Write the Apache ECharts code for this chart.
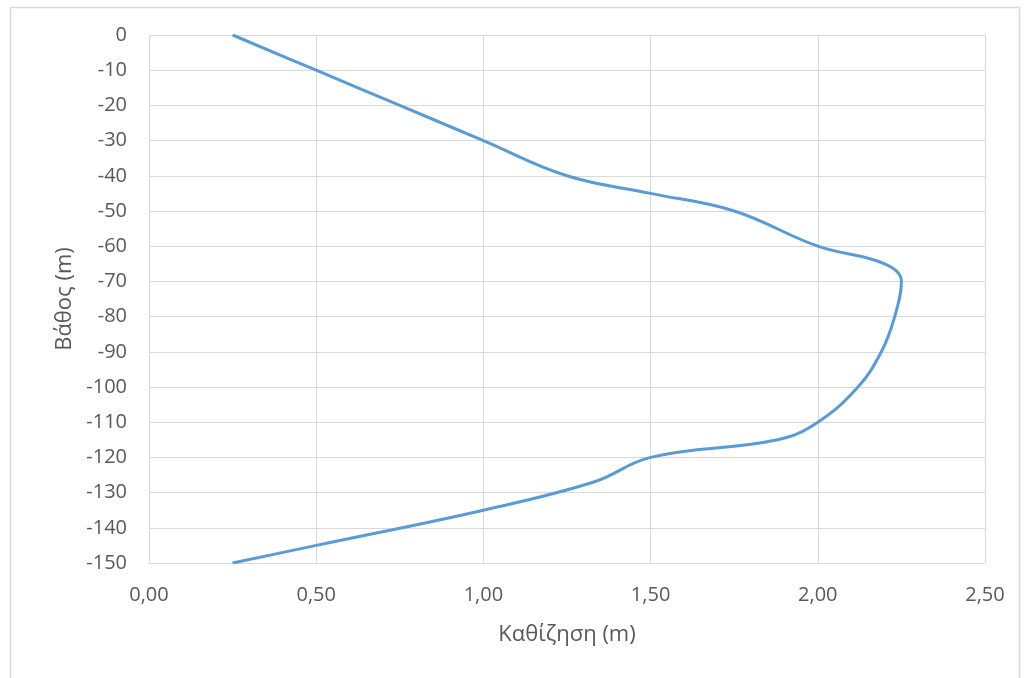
<!DOCTYPE html>
<html>
<head>
<meta charset="utf-8">
<script src="https://cdn.jsdelivr.net/npm/echarts@6/dist/echarts.min.js"></script>
<style>
  html, body { margin: 0; padding: 0; background: #fff; }
  #chart { width: 1025px; height: 678px; }
</style>
</head>
<body>
<div id="chart"></div>
<script>
// Settlement (m) against depth (m)
const settlement = [0.25, 0.5, 0.75, 1.0, 1.25, 1.5, 1.75, 2.0, 2.2, 2.25, 2.23, 2.19, 2.12, 2.0, 1.88, 1.5, 1.33, 1.0, 0.5, 0.25];
const depth      = [0, -10, -20, -30, -40, -45, -50, -60, -65, -70, -80, -90, -100, -110, -115, -120, -127, -135, -145, -150];

const xTitle = 'Καθίζηση (m)';
const yTitle = 'Βάθος (m)';

const points = settlement.map((s, i) => [s, depth[i]]);
const font = 'Open Sans, Liberation Sans, sans-serif';
const gridColor = '#d9d9d9';
const textColor = '#595959';

const chart = echarts.init(document.getElementById('chart'), null, { renderer: 'canvas' });
chart.setOption({
  animation: false,
  backgroundColor: '#fff',
  graphic: [{
    type: 'rect',
    shape: { x: 10.5, y: 7.5, width: 1009, height: 690 },
    style: { fill: 'none', stroke: '#d9d9d9', lineWidth: 1.5 },
    silent: true
  }],
  grid: { left: 149, top: 35, right: 40, bottom: 115, containLabel: false },
  xAxis: {
    type: 'value', min: 0, max: 2.5, interval: 0.5,
    name: xTitle, nameLocation: 'middle', nameGap: 61,
    nameTextStyle: { fontFamily: font, fontSize: 22, color: textColor },
    axisLine: { show: false }, axisTick: { show: false },
    axisLabel: { fontFamily: font, fontSize: 20, color: textColor, margin: 22,
      formatter: v => v.toFixed(2).replace('.', ',') },
    splitLine: { show: true, lineStyle: { color: gridColor, width: 1 } }
  },
  yAxis: {
    type: 'value', min: -150, max: 0, interval: 10,
    name: yTitle, nameLocation: 'middle', nameGap: 73, nameRotate: 90,
    nameTextStyle: { fontFamily: font, fontSize: 22, color: textColor },
    axisLine: { show: false }, axisTick: { show: false },
    axisLabel: { fontFamily: font, fontSize: 20, color: textColor, margin: 22 },
    splitLine: { show: true, lineStyle: { color: gridColor, width: 1 } }
  },
  series: [{
    type: 'line',
    data: points,
    smooth: 0.4,
    showSymbol: false,
    lineStyle: { color: '#5b9bd5', width: 3 }
  }]
});
</script>
</body>
</html>
